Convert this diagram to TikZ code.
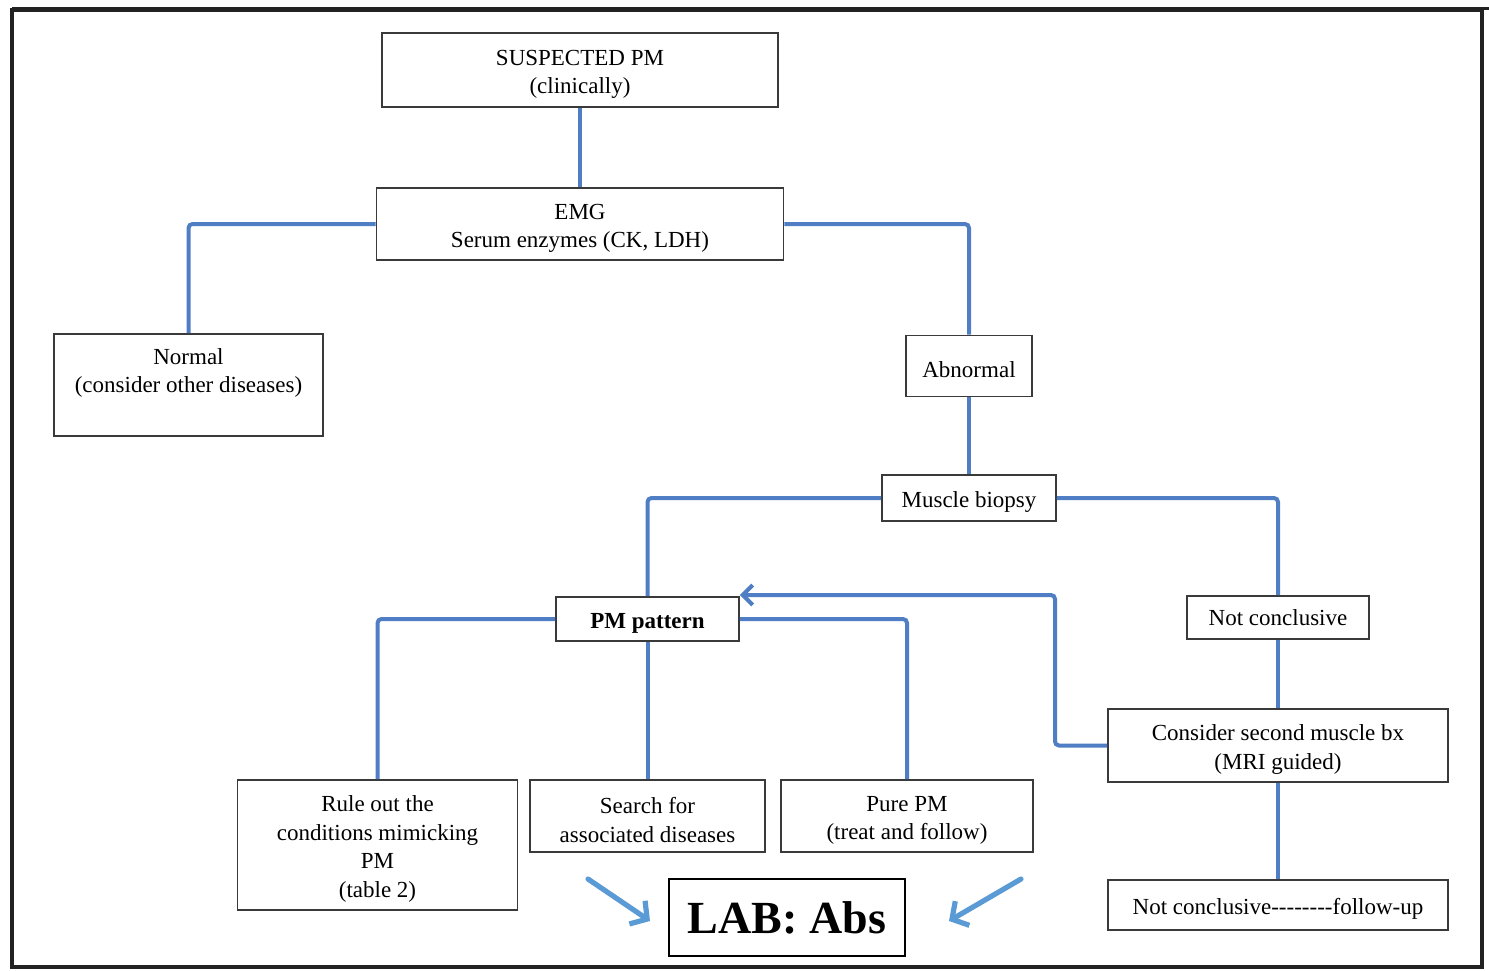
\documentclass[tikz,border=0pt]{standalone}
\usepackage{fontspec}
\setmainfont{Liberation Serif}
\usetikzlibrary{arrows.meta}
\definecolor{connblue}{HTML}{4F7EC4}
\definecolor{lablue}{HTML}{5B9BD5}
\definecolor{boxline}{HTML}{3A3A3A}
\definecolor{frameline}{HTML}{222222}
\newcommand{\dnstrut}{\rule{0pt}{12pt}}
\begin{document}
\begin{tikzpicture}[x=0.5pt,y=-0.5pt,
  box/.style={draw=boxline,line width=0.9pt,fill=white,inner sep=0pt,align=center,
    font=\fontsize{11.5}{14.4}\selectfont},
  conn/.style={draw=connblue,line width=2pt,rounded corners=2pt},
  fbarrow/.style={conn,-{Straight Barb[length=5pt,width=10pt,line width=2pt]}},
  labarrow/.style={draw=lablue,line width=2.6pt,line cap=round,
    -{Straight Barb[length=6pt,width=14pt,line width=2.6pt]}}]
\useasboundingbox (0,0) rectangle (1489,970);
% outer frame
\draw[frameline,line width=2pt] (12,10) rectangle (1482,967);
\draw[frameline,line width=1.5pt] (12,8.5) -- (1489,8.5);

% nodes
\node[box,minimum width=198pt,minimum height=37pt] (susp) at (580,70) {\dnstrut SUSPECTED PM\\(clinically)};
\node[box,minimum width=203.5pt,minimum height=36pt] (emg) at (580,224) {\dnstrut EMG\\Serum enzymes (CK, LDH)};
\node[box,minimum width=134.5pt,minimum height=51pt] (normal) at (188.5,385) {Normal\\(consider other diseases)\\\mbox{}};
\node[box,minimum width=63pt,minimum height=30.5pt] (abn) at (969,366) {\dnstrut Abnormal};
\node[box,minimum width=87pt,minimum height=23pt] (biopsy) at (969,498) {\dnstrut Muscle biopsy};
\node[box,minimum width=91.5pt,minimum height=22pt,font=\fontsize{11.5}{14.4}\selectfont\bfseries] (pmpat) at (647.5,619) {\dnstrut PM pattern};
\node[box,minimum width=91pt,minimum height=21.5pt] (notconc) at (1278,617.5) {Not conclusive};
\node[box,minimum width=170pt,minimum height=36.5pt] (consider) at (1278,745.5) {\dnstrut Consider second muscle bx\\(MRI guided)};
\node[box,minimum width=140pt,minimum height=65pt] (ruleout) at (377.5,845) {\dnstrut Rule out the\\conditions mimicking\\PM\\(table 2)};
\node[box,minimum width=117.5pt,minimum height=36pt] (search) at (647.5,816) {\dnstrut Search for\\associated diseases};
\node[box,minimum width=126pt,minimum height=36pt] (pure) at (907,816) {\dnstrut Pure PM\\(treat and follow)};
\node[box,minimum width=170pt,minimum height=25pt] (follow) at (1278,905) {\dnstrut Not conclusive-{}-{}-{}-{}-{}-{}-{}-follow-up};
\node[draw=black,line width=0.9pt,fill=white,inner sep=0pt,minimum width=118pt,minimum height=38.5pt,
  font=\fontsize{23}{26}\selectfont\bfseries] (lab) at (787,917.5) {LAB: Abs};

% connectors
\draw[conn] (susp.south) -- (emg.north);
\draw[conn] (emg.west) -| (normal.north);
\draw[conn] (emg.east) -| (abn.north);
\draw[conn] (abn.south) -- (biopsy.north);
\draw[conn] (biopsy.west) -| (pmpat.north);
\draw[conn] (biopsy.east) -| (notconc.north);
\draw[conn] (notconc.south) -- (consider.north);
\draw[conn] (consider.south) -- (follow.north);
\draw[conn] (pmpat.west) -| (ruleout.north);
\draw[conn] (pmpat.south) -- (search.north);
\draw[conn] (pmpat.east) -| (pure.north);
\coordinate (fbx) at (1055,595);
\draw[fbarrow] (consider.west) -| (fbx) -- (fbx -| pmpat.east);

% LAB arrows
\coordinate (la1) at (588,879);
\coordinate (la2) at (650,921);
\coordinate (ra1) at (1021,879);
\coordinate (ra2) at (949,921);
\draw[labarrow] (la1) -- (la2);
\draw[labarrow] (ra1) -- (ra2);
\end{tikzpicture}
\end{document}
